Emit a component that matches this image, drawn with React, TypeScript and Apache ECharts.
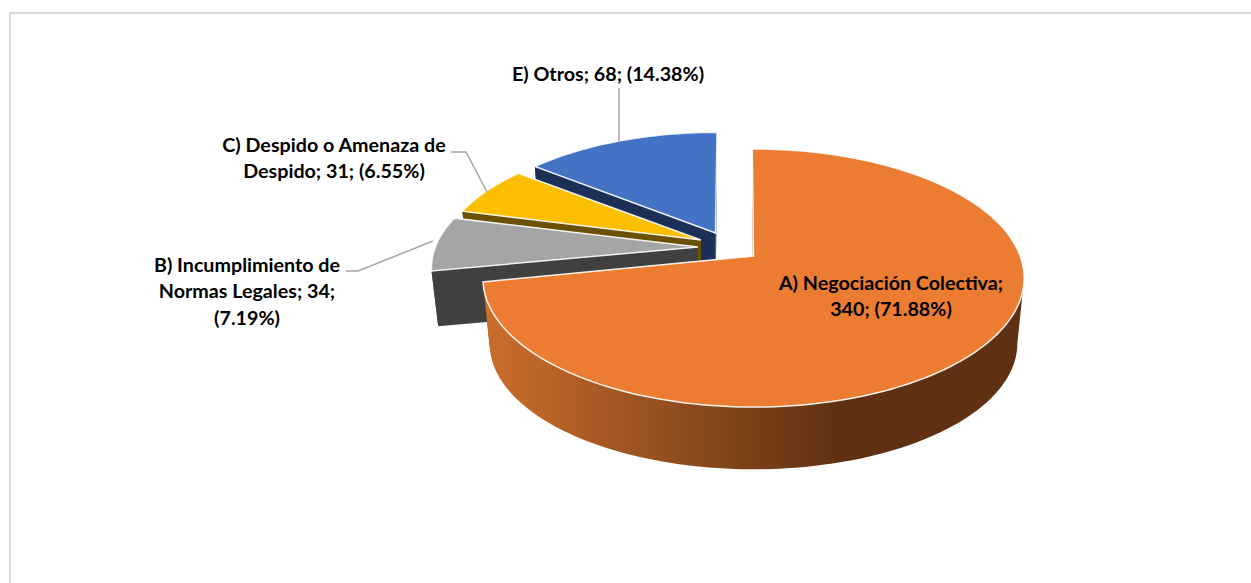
import React, { useEffect, useRef } from "react";
import * as echarts from "echarts";

const categories = ["A) Negociación Colectiva", "B) Incumplimiento de Normas Legales", "C) Despido o Amenaza de Despido", "E) Otros"];
const values = [340, 34, 31, 68];
const percents = ["71.88", "7.19", "6.55", "14.38"];
const labelLines = [
  ["A) Negociación Colectiva;", "340; (71.88%)"],
  ["B) Incumplimiento de", "Normas Legales; 34;", "(7.19%)"],
  ["C) Despido o Amenaza de", "Despido; 31; (6.55%)"],
  ["E) Otros; 68; (14.38%)"],
];
const topColors = ["#EB7C31", "#A5A5A5", "#FCBF00", "#4472C4"];
const faceColors = ["#7A431B", "#404040", "#6B5000", "#1B2F57"];

// Layout of the perspective pie (pixels)
const K = 0.1705;
const RX = 268;
const RY = 125.3;
const layout = [
  { ax: 753.5, ay: 256, sx: 0.995, sy: 1, depth: 66, rot: -0.3 },
  { ax: 698, ay: 247, sx: 0.98, sy: 0.95, depth: 56, rot: 0 },
  { ax: 701, ay: 240, sx: 0.96, sy: 0.95, depth: 56, rot: 0 },
  { ax: 715.5, ay: 233, sx: 0.955, sy: 0.94, depth: 56, rot: 0.4 },
];
const labelPos = [
  { x: 891, y: [282, 308] },
  { x: 247, y: [264, 290, 317] },
  { x: 334, y: [144, 170] },
  { x: 608, y: [73] },
];
const leaders: number[][][] = [
  [],
  [[346, 271], [358, 271], [433, 241]],
  [[451, 152], [466, 152], [487, 192]],
  [[619, 88], [619, 141]],
];

const total = values.reduce((a, b) => a + b, 0);
const starts: number[] = [];
values.reduce((acc, v, i) => {
  starts[i] = acc;
  return acc + v;
}, 0);
const drawOrder = [3, 2, 1, 0];
// Angle where the rim's silhouette turns from back-facing to front-facing
const RIM_TANGENT_DEG = (Math.acos(-K) * 180) / Math.PI;

function project(i: number, deg: number, bottom: boolean): number[] {
  const l = layout[i];
  const t = ((deg + l.rot) * Math.PI) / 180;
  const X = Math.sin(t);
  const Y = -Math.cos(t);
  const w = 1 - K * Y;
  const s = bottom ? 0.975 : 1;
  return [
    l.ax + (l.sx * s * RX * X) / w,
    l.ay + (bottom ? l.depth : 0) + (l.sy * s * RY * Y) / w,
  ];
}

function arc(i: number, from: number, to: number, bottom: boolean): number[][] {
  const pts: number[][] = [];
  const n = Math.max(8, Math.ceil((to - from) / 1.5));
  for (let j = 0; j <= n; j++) pts.push(project(i, from + ((to - from) * j) / n, bottom));
  return pts;
}

function renderItem(params: any, api: any) {
  const i = drawOrder[params.dataIndex];
  const value = api.value(0);
  const from = (api.value(1) / total) * 360;
  const to = from + (value / total) * 360;
  const l = layout[i];
  const topApex = [l.ax, l.ay];
  const botApex = [l.ax, l.ay + l.depth];
  const wallFill =
    i === 0
      ? {
          type: "linear",
          x: 0,
          y: 0,
          x2: 1,
          y2: 0,
          colorStops: [
            { offset: 0, color: "#CC6E2C" },
            { offset: 0.66, color: "#5F3112" },
            { offset: 1, color: "#5F3112" },
          ],
        }
      : faceColors[i];
  const top = arc(i, from, to, false);
  const bot = arc(i, from, to, true);
  const wallFrom = Math.max(from, RIM_TANGENT_DEG - l.rot);
  const wallTop = arc(i, wallFrom, to, false);
  const wallBot = arc(i, wallFrom, to, true);
  const children: any[] = [
    {
      type: "polygon",
      shape: { points: [top[top.length - 1], topApex, botApex, bot[bot.length - 1]] },
      style: { fill: faceColors[i] },
    },
    {
      type: "polygon",
      shape: { points: wallTop.concat(wallBot.slice().reverse()) },
      style: { fill: wallFill },
    },
    {
      type: "polygon",
      shape: { points: [top[0], topApex, botApex, bot[0]] },
      style: { fill: faceColors[i] },
    },
    {
      type: "polygon",
      shape: { points: [topApex].concat(top) },
      style: { fill: topColors[i], stroke: "#FFFFFF", strokeOpacity: 0.9, lineWidth: 1.5, lineJoin: "miter" },
    },
  ];
  if (leaders[i].length) {
    children.push({
      type: "polyline",
      shape: { points: leaders[i] },
      style: { stroke: "#A6A6A6", lineWidth: 1.5, fill: "none" },
    });
  }
  labelLines[i].forEach((line, k) => {
    children.push({
      type: "text",
      style: {
        text: line,
        x: labelPos[i].x,
        y: labelPos[i].y[k],
        align: "center",
        verticalAlign: "middle",
        fill: "#000000",
        font: 'bold 19.7px Lato, "Noto Sans", sans-serif',
      },
    });
  });
  return { type: "group", children };
}

export default function App() {
  const ref = useRef<HTMLDivElement>(null);
  useEffect(() => {
    const chart = echarts.init(ref.current!, undefined, { renderer: "svg" });
    chart.setOption({
      animation: false,
      backgroundColor: "#FFFFFF",
      graphic: [
        {
          type: "polyline",
          silent: true,
          shape: { points: [[10, 583], [10, 13], [1251, 13]] },
          style: { stroke: "#D9D9D9", lineWidth: 2, fill: "none" },
        },
      ],
      series: [
        {
          type: "custom",
          coordinateSystem: "none",
          renderItem,
          silent: true,
          data: drawOrder.map((i) => ({
            name: categories[i],
            value: [values[i], starts[i], Number(percents[i])],
          })),
        },
      ],
    });
    return () => chart.dispose();
  }, []);
  return <div ref={ref} style={{ position: "absolute", left: 0, top: 0, width: 1251, height: 583 }} />;
}
